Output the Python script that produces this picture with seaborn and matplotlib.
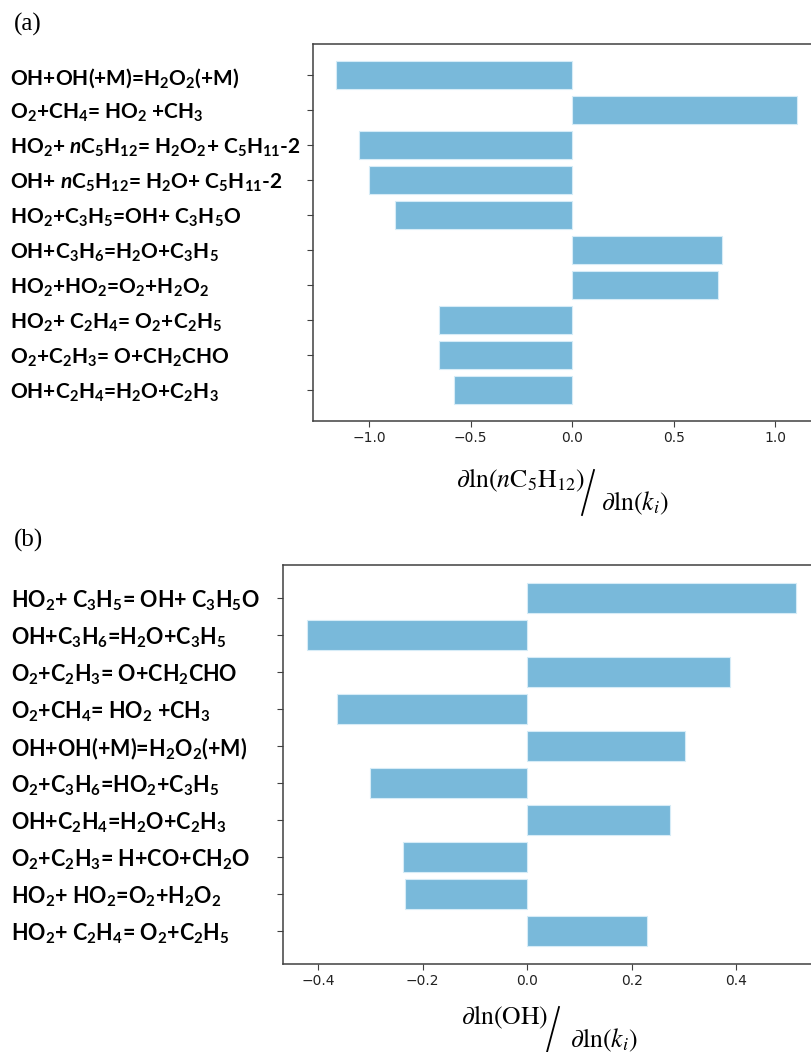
import pandas as pd
import numpy as np
from matplotlib import pyplot as plt
from matplotlib.lines import Line2D
import seaborn as sns

# Sensitivity of nC5H12 (a) and OH (b) to the rate constants k_i

# panel (a): reactions, top to bottom
labels_a = [
    "OH+OH(+M)=H$_2$O$_2$(+M)",
    "O$_2$+CH$_4$= HO$_2$ +CH$_3$",
    "HO$_2$+ $n$C$_5$H$_{12}$= H$_2$O$_2$+ C$_5$H$_{11}$-2",
    "OH+ $n$C$_5$H$_{12}$= H$_2$O+ C$_5$H$_{11}$-2",
    "HO$_2$+C$_3$H$_5$=OH+ C$_3$H$_5$O",
    "OH+C$_3$H$_6$=H$_2$O+C$_3$H$_5$",
    "HO$_2$+HO$_2$=O$_2$+H$_2$O$_2$",
    "HO$_2$+ C$_2$H$_4$= O$_2$+C$_2$H$_5$",
    "O$_2$+C$_2$H$_3$= O+CH$_2$CHO",
    "OH+C$_2$H$_4$=H$_2$O+C$_2$H$_3$",
]
values_a = [-1.163, 1.106, -1.048, -1.001, -0.871, 0.737, 0.717, -0.654, -0.654, -0.584]

# panel (b): reactions, top to bottom
labels_b = [
    "HO$_2$+ C$_3$H$_5$= OH+ C$_3$H$_5$O",
    "OH+C$_3$H$_6$=H$_2$O+C$_3$H$_5$",
    "O$_2$+C$_2$H$_3$= O+CH$_2$CHO",
    "O$_2$+CH$_4$= HO$_2$ +CH$_3$",
    "OH+OH(+M)=H$_2$O$_2$(+M)",
    "O$_2$+C$_3$H$_6$=HO$_2$+C$_3$H$_5$",
    "OH+C$_2$H$_4$=H$_2$O+C$_2$H$_3$",
    "O$_2$+C$_2$H$_3$= H+CO+CH$_2$O",
    "HO$_2$+ HO$_2$=O$_2$+H$_2$O$_2$",
    "HO$_2$+ C$_2$H$_4$= O$_2$+C$_2$H$_5$",
]
values_b = [0.513, -0.420, 0.387, -0.364, 0.302, -0.300, 0.273, -0.238, -0.234, 0.229]

df_a = pd.DataFrame({"reaction": labels_a, "sens": values_a})
df_b = pd.DataFrame({"reaction": labels_b, "sens": values_b})

# bold sans labels with subscripts through mathtext
plt.rcParams["mathtext.fontset"] = "custom"
plt.rcParams["mathtext.rm"] = "Lato:bold"
plt.rcParams["mathtext.it"] = "Lato:bold:italic"
plt.rcParams["mathtext.bf"] = "Lato:bold"

W, H = 811, 1052
fig = plt.figure(figsize=(W / 100, H / 100), dpi=100)

bar_color = "#79b9da"


def px(x0, y0, x1, y1):
    # axes box from pixel corners
    return [x0 / W, 1 - y1 / H, (x1 - x0) / W, (y1 - y0) / H]


def draw(ax, df, label_pad, label_size):
    sns.barplot(data=df, x="sens", y="reaction", orient="h", color=bar_color,
                width=0.8, edgecolor="#d6ecf7", linewidth=0.8, saturation=1, ax=ax)
    n = len(df)
    ax.set_ylim(n - 1 + 0.89, -0.89)
    v = df["sens"].to_numpy()
    span = v.max() - v.min()
    ax.set_xlim(v.min() - 0.05 * span, v.max() + 0.05 * span)
    ax.set_xlabel("")
    ax.set_ylabel("")
    for s in ax.spines.values():
        s.set_color("#404040")
        s.set_linewidth(1.1)
    # the source figure is cut just before the right spine
    ax.spines["right"].set_visible(False)
    ax.tick_params(axis="x", labelsize=10, length=4, color="#404040", labelcolor="#222222")
    ax.tick_params(axis="y", labelsize=label_size, length=4, color="#404040", pad=label_pad)
    for t in ax.get_yticklabels():
        t.set_horizontalalignment("left")
        t.set_fontfamily("Lato")
        t.set_fontweight("bold")


ax_a = fig.add_axes(px(313, 44, 820, 421))
draw(ax_a, df_a, (313 - 10) / 100 * 72 - 4, 15)

ax_b = fig.add_axes(px(283, 565, 820, 964))
draw(ax_b, df_b, (283 - 11) / 100 * 72 - 4, 15.5)

# panel tags
fig.text(14 / W, 1 - 24 / H, "(a)", fontsize=18, family="Liberation Serif", va="center")
fig.text(14 / W, 1 - 540 / H, "(b)", fontsize=18, family="Liberation Serif", va="center")

# x labels written as  numerator / denominator
kw = dict(fontsize=18.5, math_fontfamily="stix", ha="center", va="center")
fig.text(521 / W, 1 - 480 / H, r"$\partial\mathrm{ln}(n\mathrm{C_5H_{12}})$", **kw)
fig.add_artist(Line2D([582 / W, 594 / W], [1 - 515 / H, 1 - 470 / H], color="black", lw=1.3))
fig.text(635 / W, 1 - 503 / H, r"$\partial\mathrm{ln}(k_i)$", **kw)

fig.text(505 / W, 1 - 1017 / H, r"$\partial\mathrm{ln}(\mathrm{OH})$", **kw)
fig.add_artist(Line2D([547 / W, 559 / W], [1 - 1052 / H, 1 - 1007 / H], color="black", lw=1.3))
fig.text(604 / W, 1 - 1040 / H, r"$\partial\mathrm{ln}(k_i)$", **kw)

fig.savefig("out.png", dpi=100)
